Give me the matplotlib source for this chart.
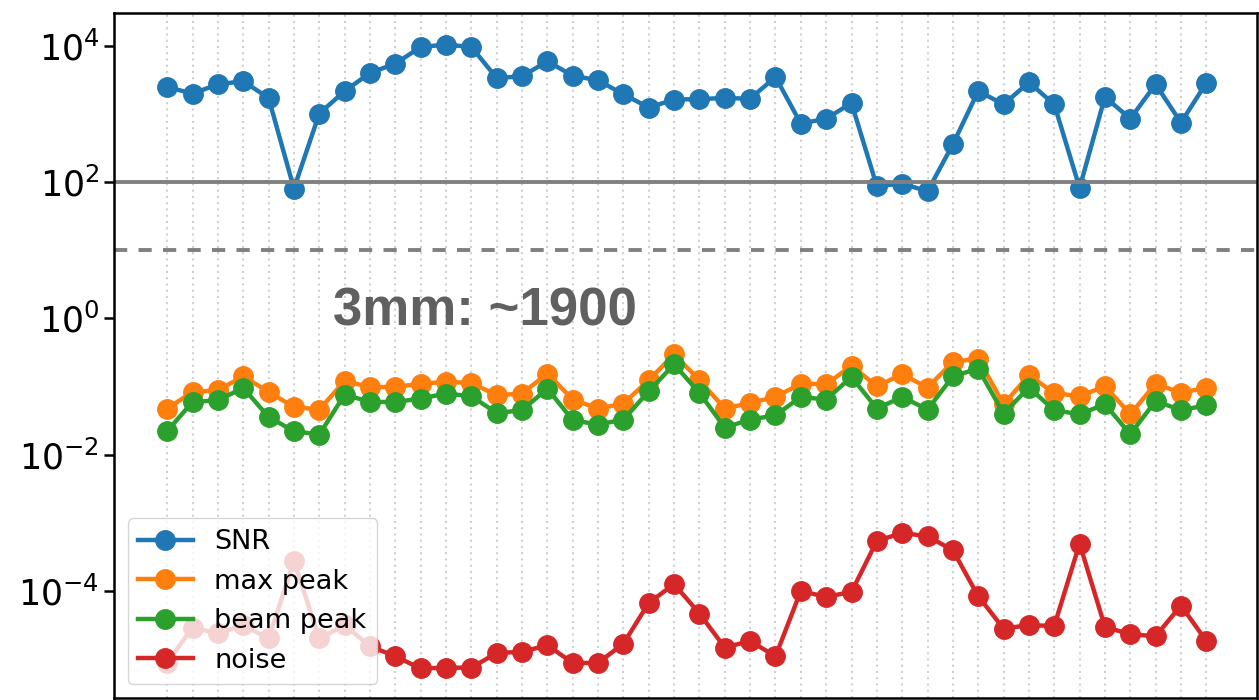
import matplotlib
matplotlib.use("Agg")
import matplotlib.pyplot as plt
import numpy as np

# ---------------- data ----------------
snr = [2480, 1980, 2720, 3010, 1710, 80, 1010, 2160, 3980, 5460,
       9570, 10400, 9570, 3360, 3560, 5900, 3640, 3100, 1940, 1240,
       1620, 1650, 1710, 1670, 3480, 720, 850, 1440, 87, 95,
       73, 358, 2160, 1380, 2900, 1380, 82, 1770, 850, 2720,
       745, 2840]
max_peak = [0.0475, 0.0832, 0.0881, 0.141, 0.0832, 0.0501, 0.0459, 0.120, 0.0984, 0.0984,
            0.110, 0.117, 0.113, 0.0745, 0.0789, 0.155, 0.0644, 0.0475, 0.0562, 0.124,
            0.297, 0.124, 0.0475, 0.0574, 0.0703, 0.110, 0.108, 0.201, 0.101, 0.151,
            0.0966, 0.229, 0.257, 0.0549, 0.146, 0.0804, 0.0719, 0.101, 0.0392, 0.110,
            0.0804, 0.0966]
beam_peak = [0.0223, 0.0593, 0.0628, 0.0953, 0.0357, 0.0221, 0.0197, 0.0762, 0.0593, 0.0593,
             0.0665, 0.0789, 0.0720, 0.0409, 0.0449, 0.0933, 0.0320, 0.0277, 0.0327, 0.0851,
             0.212, 0.0804, 0.0250, 0.0327, 0.0378, 0.0703, 0.0644, 0.138, 0.0475, 0.0703,
             0.0459, 0.141, 0.183, 0.0401, 0.0966, 0.0449, 0.0392, 0.0549, 0.0200, 0.0614,
             0.0449, 0.0531]
noise = [8.9e-6, 2.91e-5, 2.38e-5, 3.15e-5, 2.01e-5, 2.76e-4, 2.01e-5, 3.15e-5, 1.55e-5, 1.10e-5,
         7.3e-6, 7.5e-6, 7.5e-6, 1.23e-5, 1.28e-5, 1.60e-5, 8.8e-6, 8.8e-6, 1.69e-5, 6.68e-5,
         1.26e-4, 4.67e-5, 1.48e-5, 1.85e-5, 1.10e-5, 1.0e-4, 8.2e-5, 9.7e-5, 5.42e-4, 7.1e-4,
         6.35e-4, 3.96e-4, 8.4e-5, 2.81e-5, 3.15e-5, 3.07e-5, 4.97e-4, 2.97e-5, 2.32e-5, 2.17e-5,
         6.12e-5, 1.85e-5]
snr_limit = 100
dash_limit = 10
note = "3mm: ~1900"

x = np.arange(len(snr))

fig = plt.figure(figsize=(12.59, 7), dpi=100)
ax = fig.add_axes([114/1259, 2/700, 1143/1259, 685/700])

kw = dict(marker='o', lw=3.2, ms=14)
ax.plot(x, snr, label='SNR', **kw)
ax.plot(x, max_peak, label='max peak', **kw)
ax.plot(x, beam_peak, label='beam peak', **kw)
ax.plot(x, noise, label='noise', **kw)

# thresholds
ax.axhline(snr_limit, color='gray', lw=2.8)
ax.axhline(dash_limit, color='gray', lw=2.8, linestyle=(0, (3.4, 2.9)))

ax.set_yscale('log')
ax.set_ylim(10**-5.57, 10**4.48)
ax.set_xlim(-2.1, 43)
ax.set_yticks([1e-4, 1e-2, 1e0, 1e2, 1e4])
ax.yaxis.set_minor_locator(matplotlib.ticker.NullLocator())
ax.set_xticks(x)
ax.tick_params(axis='x', length=0, labelbottom=False)
ax.tick_params(axis='y', labelsize=25, length=7, width=1.8)
ax.grid(axis='x', linestyle=(0, (1, 2)), color='#d0d0d0', lw=1.5)
for s in ax.spines.values():
    s.set_linewidth(1.8)

ax.text(0.1916, 0.5445, note, transform=ax.transAxes, fontsize=38,
        fontweight='bold', color='#606060', family='Liberation Sans')

ax.legend(loc='lower left', fontsize=19.5, framealpha=0.8)

fig.savefig('out.png', dpi=100)
